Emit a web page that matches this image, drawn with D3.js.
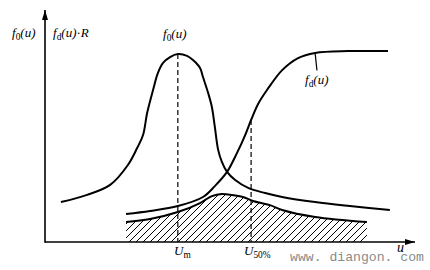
<!DOCTYPE html>
<html>
<head>
<meta charset="utf-8">
<script src="https://d3js.org/d3.v7.min.js"></script>
<style>
  html, body { margin: 0; padding: 0; background: #fff; }
  svg { display: block; }
</style>
</head>
<body>
<div id="chart"></div>
<script>
// values (u and relative height, 0..100)
var f0U = [4.3, 11.4, 17.6, 22.4, 24.9, 26.5, 27.6, 29.2, 30.5, 31.9, 33.8, 35.9, 38.4, 40.0, 41.9, 42.7, 44.1, 45.1, 45.9, 46.8, 47.8, 49.2, 51.4, 54.9, 59.5, 64.1, 73.0, 82.4, 93.2];
var f0V = [17.2, 20.3, 24.6, 33.2, 40.5, 46.1, 55.6, 65.5, 72.8, 77.2, 79.7, 81.0, 80.2, 78.4, 75.0, 71.1, 64.2, 58.2, 49.6, 39.7, 34.5, 30.2, 26.7, 23.3, 21.1, 19.4, 17.2, 15.5, 13.8];

var fdU = [21.9, 28.4, 35.9, 42.7, 45.9, 49.2, 51.9, 54.1, 55.7, 57.6, 60.0, 64.1, 68.4, 73.0, 81.9, 92.7];
var fdV = [12.1, 13.4, 15.5, 19.4, 24.1, 30.2, 38.4, 46.1, 52.6, 59.5, 65.5, 74.1, 79.3, 81.5, 82.3, 82.3];

// fd(u)*R, the hatched area
var fdrU = [21.9, 28.4, 35.9, 41.9, 45.1, 47.8, 50.5, 53.5, 56.2, 60.8, 64.1, 73.0, 87.0];
var fdrV = [8.6, 9.9, 12.9, 16.8, 19.8, 20.7, 20.3, 19.4, 17.7, 15.9, 13.8, 10.8, 8.6];

var u50 = 55.7;

var W = 430, H = 270;
var x = d3.scaleLinear().domain([0, 100]).range([45, 415]);
var y = d3.scaleLinear().domain([0, 100]).range([242, 10]);

function pts(us, vs) {
    return us.map(function(u, i) { return { u: u, v: vs[i] }; });
}

var svg = d3.select("#chart").append("svg")
    .attr("width", W)
    .attr("height", H);

var defs = svg.append("defs");
defs.append("marker")
    .attr("id", "arrow")
    .attr("viewBox", "0 -3 10 6")
    .attr("refX", 10)
    .attr("markerUnits", "userSpaceOnUse")
    .attr("markerWidth", 10)
    .attr("markerHeight", 6)
    .attr("orient", "auto")
  .append("path")
    .attr("d", "M0,-3L10,0L0,3Z")
    .attr("fill", "#000");

defs.append("pattern")
    .attr("id", "hatch")
    .attr("patternUnits", "userSpaceOnUse")
    .attr("width", 7)
    .attr("height", 7)
  .append("path")
    .attr("d", "M-1,1l2,-2M0,7l7,-7M6,8l2,-2")
    .attr("stroke", "#000")
    .attr("stroke-width", 1);

var curve = d3.curveCatmullRom.alpha(0.5);

var line = d3.line()
    .x(function(d) { return x(d.u); })
    .y(function(d) { return y(d.v); })
    .curve(curve);

var area = d3.area()
    .x(function(d) { return x(d.u); })
    .y0(y(0))
    .y1(function(d) { return y(d.v); })
    .curve(curve);

// watermark sits under everything
svg.append("text")
    .text("www. diangon. com")
    .attr("x", 290)
    .attr("y", 261)
    .attr("textLength", 134)
    .attr("lengthAdjust", "spacingAndGlyphs")
    .attr("font-family", "Liberation Mono")
    .attr("font-size", "13.5px")
    .attr("fill", "#8a8a8a");

// hatched area
var fdr = pts(fdrU, fdrV);
svg.append("path")
    .attr("d", area(fdr))
    .attr("fill", "url(#hatch)");
svg.append("path")
    .attr("d", line(fdr))
    .attr("fill", "none")
    .attr("stroke", "#000")
    .attr("stroke-width", 2);

// curves
var f0 = pts(f0U, f0V);
var fd = pts(fdU, fdV);
[f0, fd].forEach(function(d) {
    svg.append("path")
        .attr("d", line(d))
        .attr("fill", "none")
        .attr("stroke", "#000")
        .attr("stroke-width", 2);
});

// dashed guides: peak of f0 and the 50% point of fd
var peak = f0[d3.maxIndex(f0, function(d) { return d.v; })];
var j = d3.bisector(function(d) { return d.u; }).left(fd, u50);
var a = fd[j - 1], b = fd[j];
var v50 = a.v + (b.v - a.v) * (u50 - a.u) / (b.u - a.u);
[[peak.u, peak.v], [u50, v50]].forEach(function(g) {
    svg.append("line")
        .attr("x1", x(g[0])).attr("x2", x(g[0]))
        .attr("y1", y(g[1])).attr("y2", y(0))
        .attr("stroke", "#000")
        .attr("stroke-width", 1.2)
        .attr("stroke-dasharray", "5,3");
});

// leader for the fd(u) label
svg.append("line")
    .attr("x1", x(73.0)).attr("y1", y(81.5))
    .attr("x2", x(73.5)).attr("y2", y(74))
    .attr("stroke", "#000")
    .attr("stroke-width", 1.2);

// axes
svg.append("line")
    .attr("x1", x(0)).attr("y1", y(0))
    .attr("x2", x(100)).attr("y2", y(0))
    .attr("stroke", "#000").attr("stroke-width", 1.6)
    .attr("marker-end", "url(#arrow)");
svg.append("line")
    .attr("x1", x(0)).attr("y1", y(0) + 0.8)
    .attr("x2", x(0)).attr("y2", y(100))
    .attr("stroke", "#000").attr("stroke-width", 1.6)
    .attr("marker-end", "url(#arrow)");

/**
 * Write a label made of italic and upright (subscript) parts.
 */
function label(px, py, parts, size) {
    var t = svg.append("text")
        .attr("x", px)
        .attr("y", py)
        .attr("font-family", "Liberation Serif")
        .attr("font-size", size + "px")
        .attr("fill", "#000");
    parts.forEach(function(p) {
        var s = t.append("tspan").text(p[0]);
        if (p[1] == "sub") {
            s.attr("font-style", "normal")
             .attr("font-size", (size * 0.72) + "px")
             .attr("baseline-shift", "-3");
        } else if (p[1] == "up") {
            s.attr("font-style", "normal");
        } else {
            s.attr("font-style", "italic");
        }
    });
}

label(12, 37, [["f"], ["0", "sub"], ["(u)"]], 13);
label(53, 37, [["f"], ["d", "sub"], ["(u)"], ["\u00b7", "up"], ["R"]], 13);
label(163, 38, [["f"], ["0", "sub"], ["(u)"]], 13);
label(305, 84, [["f"], ["d", "sub"], ["(u)"]], 13);
label(174, 255, [["U"], ["m", "sub"]], 13);
label(244, 255, [["U"], ["50%", "sub"]], 13);
label(397, 252, [["u"]], 14);
</script>
</body>
</html>
